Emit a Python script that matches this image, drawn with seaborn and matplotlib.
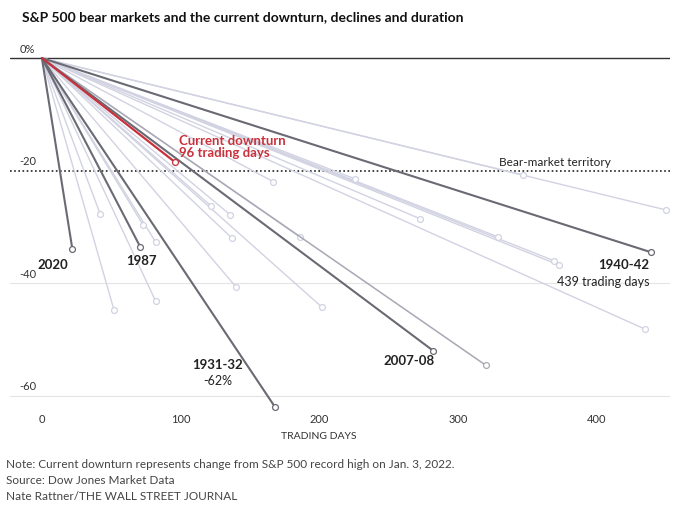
import matplotlib.pyplot as plt
import seaborn as sns

sns.set_style("white")
plt.rcParams['font.family'] = ['Lato', 'DejaVu Sans']

# end points of each decline (trading days, % change)
light_days = [42, 52, 82, 73, 82, 122, 136, 137, 140, 167, 186, 202, 226, 273, 329, 347, 369, 373, 450, 435]
light_pct = [-27.7, -44.8, -43.2, -29.7, -32.7, -26.3, -27.9, -32, -40.7, -22, -31.8, -44.3, -21.5, -28.6, -31.8, -20.8, -36, -36.8, -27, -48.2]
mid_days = [320]
mid_pct = [-54.6]
dark_names = ['2020', '1987', '1931-32', '2007-08', '1940-42']
dark_days = [22, 71, 168, 282, 439]
dark_pct = [-34, -33.6, -62, -52, -34.5]
current_days, current_pct = 96, -18.5

fig = plt.figure(figsize=(6.8, 5.06), dpi=100)
ax = fig.add_axes([10 / 680, 1 - 410 / 506, 660 / 680, 365 / 506])
ax.set_xlim(-23, 453)
ax.set_ylim(-62.4, 2.5)

for yv in [-40, -60]:
    ax.axhline(yv, color='#e4e4e4', lw=0.8, zorder=0)
ax.axhline(0, color='#333333', lw=1, zorder=1)
ax.axhline(-20, color='#222222', lw=1.2, ls=(0, (1, 1.5)), zorder=1)

def seg(d, p, color, lw, z):
    ax.plot([0, d], [0, p], color=color, lw=lw, zorder=z, clip_on=False)
    ax.scatter([d], [p], s=18, facecolor='white', edgecolor=color, lw=0.9, zorder=z + 1, clip_on=False)

for d, p in zip(light_days, light_pct):
    seg(d, p, '#d2d3e2', 1.0, 2)
for d, p in zip(mid_days, mid_pct):
    seg(d, p, '#a8a8b4', 1.1, 3)
for d, p in zip(dark_days, dark_pct):
    seg(d, p, '#6a6a74', 1.5, 4)
seg(current_days, current_pct, '#c8323c', 1.6, 6)

for yv, lab in [(0, '0%'), (-20, '-20'), (-40, '-40'), (-60, '-60')]:
    ax.text(-16, yv + 0.8, lab, fontsize=8, color='#333333', va='bottom', ha='left')

ax.text(330, -19.3, 'Bear-market territory', fontsize=8.5, color='#222222', va='bottom', ha='left')
ax.text(99, -17.7, 'Current downturn\n96 trading days', fontsize=9.5, color='#c8323c',
        fontweight='bold', va='bottom', ha='left', linespacing=1.0)

bold = dict(fontsize=9.5, fontweight='bold', color='#222222')
ax.text(-3, -35.5, '2020', va='top', ha='left', **bold)
ax.text(61, -34.8, '1987', va='top', ha='left', **bold)
ax.text(127, -53.3, '1931-32', va='top', ha='center', **bold)
ax.text(127, -56.2, '-62%', va='top', ha='center', fontsize=9, color='#222222')
ax.text(265, -52.6, '2007-08', va='top', ha='center', **bold)
ax.text(438, -35.6, '1940-42', va='top', ha='right', **bold)
ax.text(438, -38.6, '439 trading days', va='top', ha='right', fontsize=9, color='#222222')

ax.set_xticks([0, 100, 200, 300, 400])
ax.set_xticklabels(['0', '100', '200', '300', '400'], fontsize=8, color='#333333')
ax.tick_params(axis='x', length=0, pad=3)
ax.set_yticks([])
for s in ax.spines.values():
    s.set_visible(False)

fig.text(22 / 680, 1 - 17 / 506, 'S&P 500 bear markets and the current downturn, declines and duration',
         fontsize=10, fontweight='bold', color='#111111', va='center')
fig.text(319 / 680, 1 - 437 / 506, 'TRADING DAYS', fontsize=7.5, color='#333333', ha='center', va='center')
notes = ['Note: Current downturn represents change from S&P 500 record high on Jan. 3, 2022.',
         'Source: Dow Jones Market Data',
         'Nate Rattner/THE WALL STREET JOURNAL']
for i, t in enumerate(notes):
    fig.text(6 / 680, 1 - (465 + 16 * i) / 506, t, fontsize=8.5, color='#444444', va='center')

fig.savefig('out.png', dpi=100)
